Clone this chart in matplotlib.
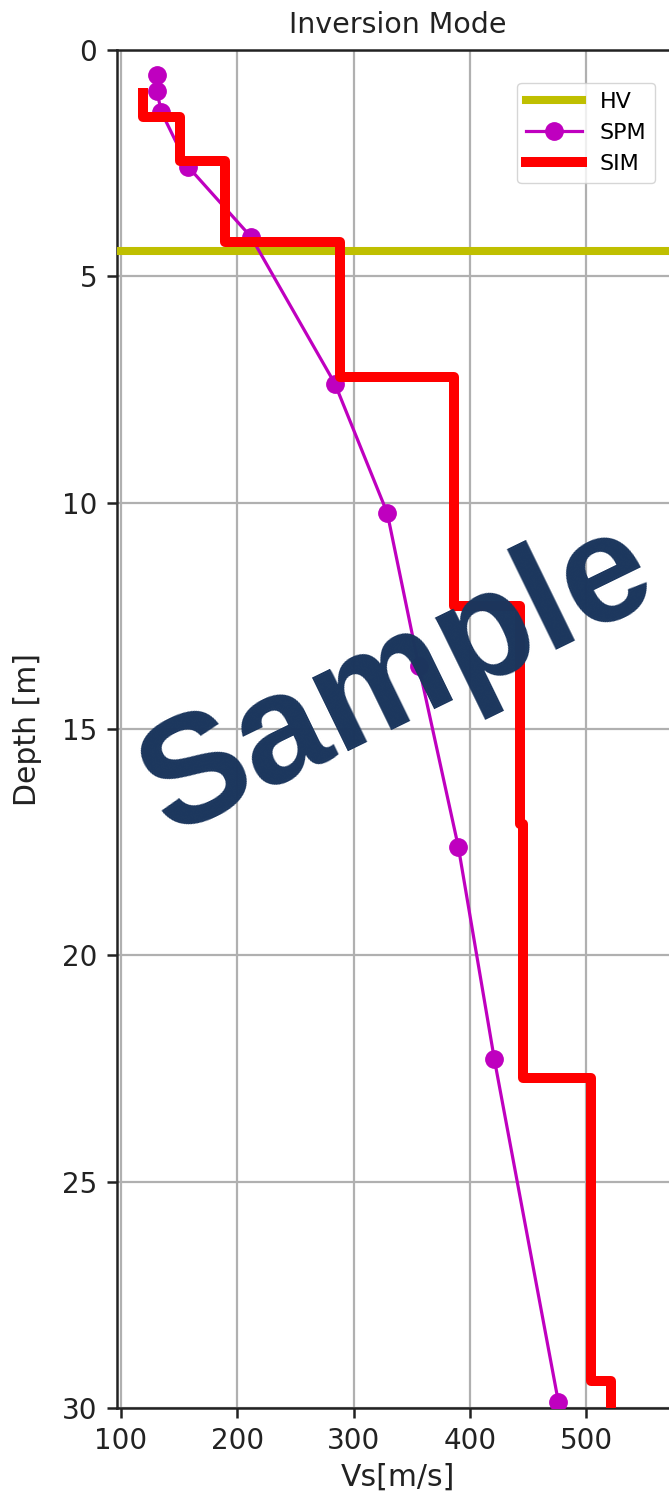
import matplotlib
matplotlib.use("Agg")
import matplotlib.pyplot as plt
import numpy as np

# SIM: layered model (velocity per layer, layer top/bottom depth)
sim_vs = [119, 151, 190, 288, 386, 443, 446, 504, 521]
sim_top = [0.95, 1.49, 2.45, 4.25, 7.23, 12.28, 17.1, 22.7, 29.4]
sim_bot = [1.49, 2.45, 4.25, 7.23, 12.28, 17.1, 22.7, 29.4, 30.0]

# SPM: smooth profile sampled at these depths
spm_vs = [131.5, 131, 135, 158, 212, 284, 329, 356, 390, 421, 476]
spm_depth = [0.55, 0.9, 1.37, 2.58, 4.13, 7.37, 10.23, 13.6, 17.6, 22.3, 29.87]

# HV depth estimate
hv_depth = 4.45

W, H = 669, 1499
fig = plt.figure(figsize=(W / 100, H / 100), dpi=100)

# axes is wider than the figure: the right side is cut off in the reference
left_px, right_px, top_px, bot_px = 116.7, 679.5, 50, 1408
ax = fig.add_axes([left_px / W, 1 - bot_px / H,
                   (right_px - left_px) / W, (bot_px - top_px) / H])

ax.axhline(hv_depth, color="y", lw=5.8, label="HV", zorder=3)
ax.plot(spm_vs, spm_depth, color="m", lw=2.3, marker="o", ms=12.5,
        label="SPM", zorder=4)

sim_x = np.repeat(sim_vs, 2)
sim_y = np.column_stack([sim_top, sim_bot]).ravel()
ax.plot(sim_x, sim_y, color="r", lw=7.2, solid_joinstyle="round",
        label="SIM", zorder=5)

ax.set_xlim(96.6, 580)
ax.set_ylim(30, 0)
ax.set_xticks([100, 200, 300, 400, 500])
ax.set_yticks([0, 5, 10, 15, 20, 25, 30])
ax.grid(True, color="#b0b0b0", lw=1.6)
ax.set_axisbelow(True)

for s in ax.spines.values():
    s.set_linewidth(1.8)
    s.set_color("#222222")
ax.tick_params(labelsize=20, length=7, width=1.8, pad=7, colors="#222222",
               labelcolor="#222222")

ax.set_title("Inversion Mode", fontsize=20.5, pad=12, color="#222222")
ax.set_xlabel("Vs[m/s]", fontsize=21.5, labelpad=5, color="#222222")
ax.set_ylabel("Depth [m]", fontsize=21.5, labelpad=14, color="#222222")

fig.legend(loc="upper right", bbox_to_anchor=(655 / W, 1 - 83 / H),
           bbox_transform=fig.transFigure, borderaxespad=0, fontsize=16,
           handlelength=2.5, numpoints=1)

fig.text(398 / W, 1 - 680 / H, "Sample", rotation=26, ha="center",
         va="center", fontsize=111, fontweight="bold",
         family=["Liberation Sans", "DejaVu Sans"], color="#1b365d",
         zorder=10)

fig.savefig("out.png", dpi=100)
